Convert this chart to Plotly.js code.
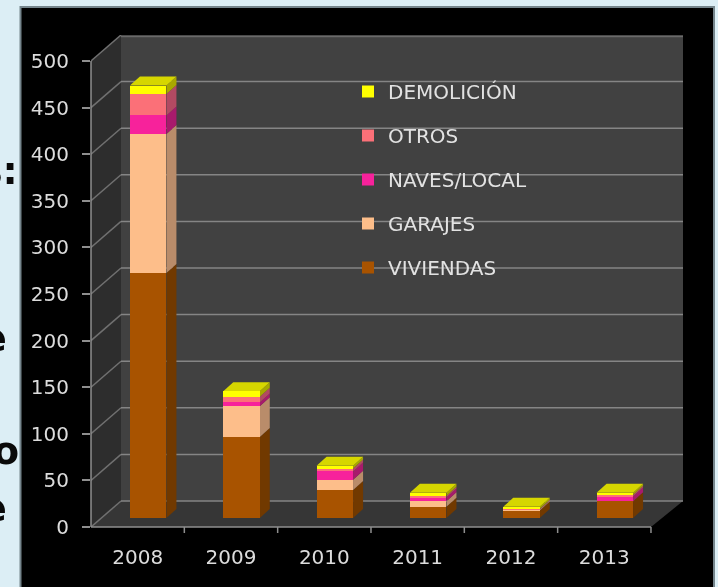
<!DOCTYPE html>
<html><head><meta charset="utf-8">
<script src="https://cdn.plot.ly/plotly-3.0.1.min.js"></script>
<style>html,body{margin:0;padding:0;background:#dceef5;overflow:hidden}#c{width:718px;height:587px;filter:blur(0.6px)}</style>
</head><body><div id="c"></div>
<script>
const years=['2008','2009','2010','2011','2012','2013'];
const viviendas=[263,87,30,12,8,18];
const garajes=[149,33,11,6,1,0];
const naves=[20,4,9,4,0,5];
const otros=[23,6,3,2,1,2];
const demolicion=[9,6,3,3,2,2];
const yTicks=[0,50,100,150,200,250,300,350,400,450,500];
const seriesNames=['VIVIENDAS','GARAJES','NAVES/LOCAL','OTROS','DEMOLICIÓN'];
const seriesValues=[viviendas,garajes,naves,otros,demolicion];
const frontColors=['#a85300','#fdbe8a','#f7229b','#fb7078','#ffff00'];
const sideColors=['#713900','#b98c6a','#a81a6c','#b24a62','#a8a800'];
const topColor='#d6d600';

// pixel geometry of the plot box
const L=91,R=683,T=35,B=527,W=718,H=587;
const pxX=93.33, pxY=0.932;
const px=v=>(v-L)/(R-L), py=v=>(B-v)/(B-T);
const xMax=(R-L)/pxX, yMax=(B-T)/pxY;
const wallDxL=30/pxX, wallDy=26/pxY;
const barOff=10.5/pxX, barW=36.5/pxX, base0=9/pxY, depX=10/pxX, depY=9/pxY;

const poly=(pts,fill,layer)=>({type:'path',xref:'x',yref:'y',layer:layer||'below',
  path:'M'+pts.map(p=>p[0]+','+p[1]).join('L')+'Z',fillcolor:fill,line:{width:0}});
const seg=(x0,y0,x1,y1,c,w)=>({type:'line',xref:'x',yref:'y',layer:'below',x0,y0,x1,y1,line:{color:c,width:w||1.5}});

const shapes=[
 {type:'rect',xref:'paper',yref:'paper',layer:'below',x0:px(20.5),x1:px(714),y0:py(595),y1:py(7),fillcolor:'#000',line:{color:'#75858c',width:2}},
 poly([[0,0],[wallDxL,wallDy],[wallDxL,yMax],[0,500]],'#2d2d2d'),
 poly([[wallDxL,wallDy],[xMax,wallDy],[xMax,yMax],[wallDxL,yMax]],'#414141'),
 poly([[0,0],[6,0],[xMax,wallDy],[wallDxL,wallDy]],'#363636')
];
yTicks.forEach(v=>{
  shapes.push(seg(0,v,wallDxL,v+wallDy,'#707070'));
  const y=Math.min(v+wallDy,yMax-1.5);
  shapes.push(seg(wallDxL,y,xMax,y,v<500?'#858585':'#6a6a6a'));
});

const traces=[];
const cum=years.map(()=>base0);
seriesNames.forEach((name,s)=>{
  const vals=seriesValues[s];
  const bases=cum.slice();
  const xs=years.map((_,i)=>i+0.5+barOff);
  vals.forEach((v,i)=>{
    if(v<=0) return;
    const xr=xs[i]+barW/2;
    shapes.push(poly([[xr,bases[i]],[xr+depX,bases[i]+depY],[xr+depX,bases[i]+v+depY],[xr,bases[i]+v]],sideColors[s]));
  });
  traces.push({type:'bar',name:name,x:xs,y:vals,base:bases,width:barW,legendgroup:name,legendrank:seriesNames.length-s,
    marker:{color:frontColors[s],line:{width:0}},hoverinfo:'name+y'});
  vals.forEach((v,i)=>{cum[i]+=v;});
});
years.forEach((_,i)=>{
  const xl=i+0.5+barOff-barW/2, xr=xl+barW, y=cum[i];
  shapes.push(poly([[xl,y],[xr,y],[xr+depX,y+depY],[xl+depX,y+depY]],topColor));
});
// front axes
const paperLine=(x0,y0,x1,y1)=>({type:'line',xref:'paper',yref:'paper',layer:'above',x0:px(x0),y0:py(y0),x1:px(x1),y1:py(y1),line:{color:'#8f8f8f',width:1.5}});
shapes.push(paperLine(L,B,651,B));
shapes.push(paperLine(L,B,L,61));
years.forEach((_,i)=>{const x=L+(i+1)*pxX; shapes.push(paperLine(x,B,x,B+6));});

const stray=[['s:',19,171],['e',8,338],['o',19.5,451],['e',7.5,508]];
const annotations=stray.map(a=>({text:a[0],xref:'paper',yref:'paper',x:px(a[1]),y:py(a[2]),xanchor:'right',yanchor:'middle',showarrow:false,borderpad:0,
  font:{family:'DejaVu Sans',size:38,color:'#0a0a0a',weight:700}}));

Plotly.newPlot('c',traces,{
  width:W,height:H,autosize:false,
  margin:{l:L,r:W-R,t:T,b:H-B,pad:0},
  paper_bgcolor:'#dceef5',plot_bgcolor:'rgba(0,0,0,0)',
  barmode:'overlay',bargap:0,
  font:{family:'DejaVu Sans',color:'#d9d9d9'},
  xaxis:{range:[0,xMax],tickmode:'array',tickvals:years.map((_,i)=>i+0.5),ticktext:years,ticklen:0,showgrid:false,zeroline:false,showline:false,
    ticklabelstandoff:16,tickfont:{size:20,color:'#dcdcdc'}},
  yaxis:{range:[0,yMax],tickmode:'array',tickvals:yTicks,ticks:'outside',ticklen:8,tickcolor:'#8f8f8f',tickwidth:1.5,showgrid:false,zeroline:false,showline:false,
    ticklabelstandoff:9,tickfont:{size:20,color:'#dcdcdc'}},
  legend:{x:px(348),y:py(72),xanchor:'left',yanchor:'top',bgcolor:'rgba(0,0,0,0)',traceorder:'grouped',tracegroupgap:15,
    font:{size:20,color:'#e2e2e2'},itemclick:false,itemdoubleclick:false},
  shapes,annotations
},{displayModeBar:false});
</script></body></html>
